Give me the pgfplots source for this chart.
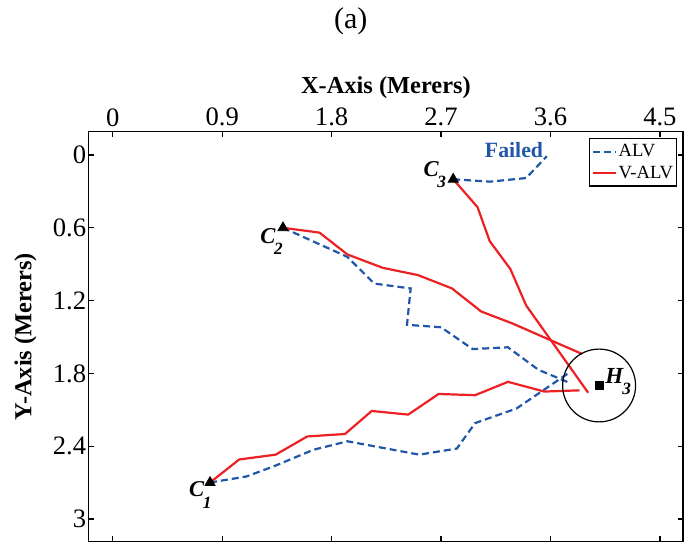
\documentclass[border=0pt]{standalone}
\usepackage{fontspec}
\setmainfont{Liberation Serif}
\usepackage{pgfplots}
\pgfplotsset{compat=1.18}
\definecolor{alvblue}{RGB}{33,87,168}
\definecolor{valvred}{RGB}{237,32,36}
\newcommand{\lbl}[2]{\textbf{\textit{#1}}\kern-0.8pt\raisebox{-5.6pt}{\fontsize{8.6}{9}\selectfont\textbf{\textit{#2}}}}
\begin{document}
\begin{tikzpicture}
\begin{axis}[
  scale only axis, width=297.1pt, height=204.9pt,
  xmin=-0.197, xmax=4.690, ymin=-0.192, ymax=3.186,
  y dir=reverse,
  axis line style={line width=0.6pt},
  xtick={0,0.9,1.8,2.7,3.6,4.5}, xticklabels={0,0.9,1.8,2.7,3.6,4.5},
  ytick={0,0.6,1.2,1.8,2.4,3}, yticklabels={0,0.6,1.2,1.8,2.4,3},
  minor tick num=0,
  xticklabel pos=upper,
  tick align=inside, major tick length=2.5pt, tick style={line width=0.6pt, black},
  ticklabel style={font=\fontsize{13.3}{14}\selectfont},
  xticklabel style={anchor=south, inner sep=0pt, yshift=2.5pt},
  yticklabel style={anchor=east, inner sep=0pt, xshift=-1.15pt},
  xlabel={X-Axis (Merers)}, ylabel={Y-Axis (Merers)},
  label style={font=\fontsize{12.2}{14}\selectfont\bfseries},
  xlabel style={at={(axis description cs:0.5,1)}, anchor=center, yshift=21.9pt},
  ylabel style={at={(axis description cs:0,0.5)}, anchor=center, yshift=31.65pt},
  legend style={at={(axis description cs:1,1)}, anchor=north east, xshift=-2.85pt, yshift=-3.3pt,
    draw=black, line width=0.6pt, font=\fontsize{9.3}{11}\selectfont, inner sep=1pt,
    row sep=0pt, column sep=0pt,
    nodes={inner xsep=0.8pt, inner ysep=1.4pt, text height=6.5pt, text depth=1.5pt}},
  legend cell align=left,
  legend image code/.code={\draw[#1] (0pt,0pt) -- (11.5pt,0pt);},
  alv/.style={color=alvblue, line width=1.1pt, dash pattern=on 3.5pt off 2pt},
  valv/.style={color=valvred, line width=1.1pt, solid},
]
% ALV paths
\addplot[alv] coordinates {(0.8,2.7) (1.10,2.65) (1.34,2.56) (1.65,2.43) (1.93,2.36) (2.52,2.47) (2.83,2.42) (2.98,2.21) (3.32,2.09) (3.76,1.79)};
\addlegendentry{ALV}
\addplot[valv] coordinates {(0.8,2.7) (1.04,2.51) (1.34,2.47) (1.60,2.32) (1.91,2.30) (2.13,2.11) (2.43,2.14) (2.68,1.97) (2.98,1.98) (3.25,1.87) (3.55,1.95) (3.84,1.94)};
\addlegendentry{V-ALV}
\addplot[alv, forget plot] coordinates {(1.4,0.6) (1.93,0.84) (2.15,1.06) (2.45,1.10) (2.42,1.40) (2.70,1.42) (2.96,1.60) (3.25,1.585) (3.50,1.77) (3.76,1.88)};
\addplot[valv, forget plot] coordinates {(1.4,0.6) (1.70,0.64) (1.93,0.82) (2.22,0.93) (2.51,0.99) (2.79,1.10) (3.03,1.29) (3.29,1.39) (3.54,1.50) (3.86,1.64)};
\addplot[alv, forget plot] coordinates {(2.8,0.2) (3.10,0.22) (3.40,0.19) (3.57,0.01)};
\addplot[valv, forget plot] coordinates {(2.8,0.2) (3.0,0.43) (3.10,0.71) (3.27,0.94) (3.40,1.24) (3.91,1.96)};
% start points and home
\addplot[only marks, mark=triangle*, mark size=2.9pt, black, forget plot] coordinates {(0.8,2.7) (1.4,0.6) (2.8,0.2)};
\addplot[only marks, mark=square*, mark size=1.9pt, black, forget plot] coordinates {(4.0,1.9)};
\draw[line width=0.6pt, black] (axis cs:4.0,1.9) circle[radius=0.3];
% labels
\node[anchor=base west, inner sep=0pt, font=\fontsize{11.3}{12}\selectfont, xshift=-10.65pt, yshift=-7.15pt] at (axis cs:0.8,2.7) {\lbl{C}{1}};
\node[anchor=base west, inner sep=0pt, font=\fontsize{11.3}{12}\selectfont, xshift=-11.45pt, yshift=-7.75pt] at (axis cs:1.4,0.6) {\lbl{C}{2}};
\node[anchor=base west, inner sep=0pt, font=\fontsize{11.3}{12}\selectfont, xshift=-14.95pt, yshift=1.3pt] at (axis cs:2.8,0.2) {\lbl{C}{3}};
\node[anchor=base west, inner sep=0pt, font=\fontsize{11.5}{12}\selectfont, xshift=2.95pt, yshift=1.1pt] at (axis cs:4.0,1.9) {\lbl{H}{3}};
\node[anchor=base, inner sep=0pt, font=\fontsize{10.9}{12}\selectfont\bfseries, text=alvblue] at (axis cs:3.30,0.02) {Failed};
\coordinate (TL) at (axis description cs:0,1);
\end{axis}
\node[anchor=base, inner sep=0pt, font=\fontsize{15}{16}\selectfont] at ([xshift=131pt,yshift=51.7pt]TL) {(a)};
\pgfresetboundingbox
\path[use as bounding box] (TL) ++(-44.4pt,65.85pt) rectangle ++(347pt,-272pt);
\end{tikzpicture}
\end{document}
